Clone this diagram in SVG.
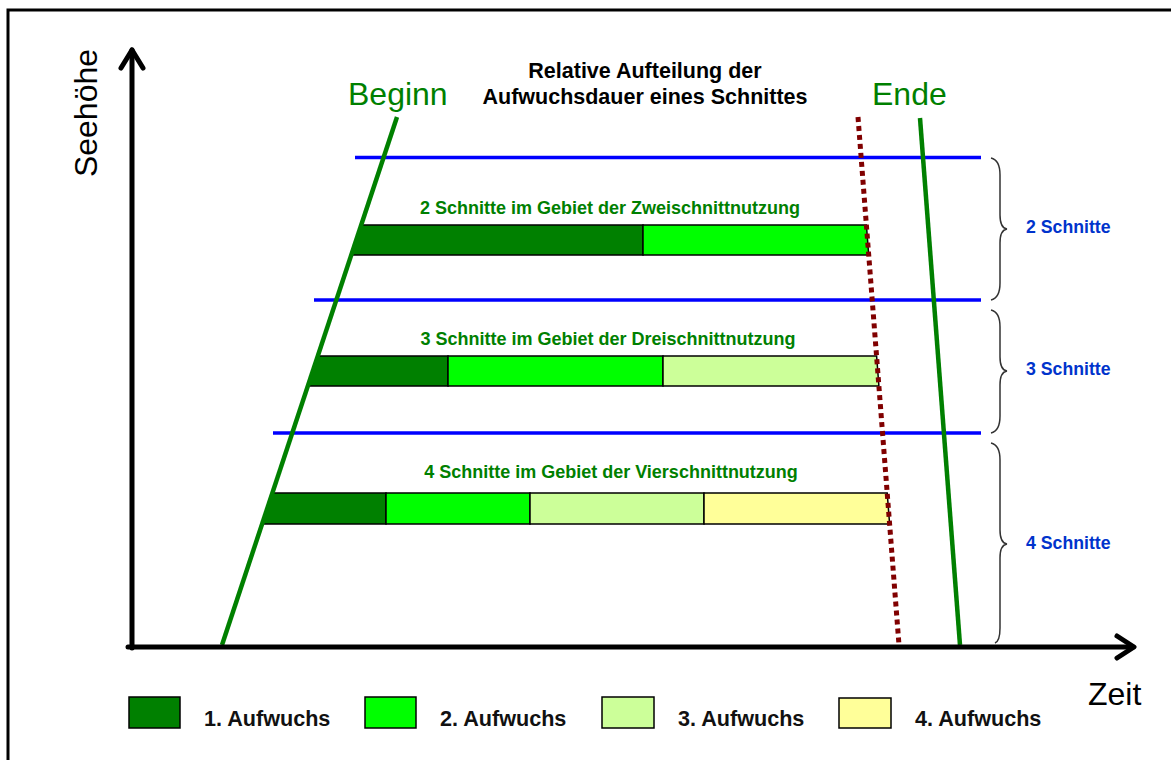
<svg xmlns="http://www.w3.org/2000/svg" width="1171" height="760" viewBox="0 0 1171 760">
<style>
.ax{stroke:#000;stroke-width:5;fill:none;stroke-linecap:round;stroke-linejoin:round}
.gl{stroke:#008000;stroke-width:4.5;fill:none}
.bl{stroke:#0000ff;stroke-width:3.5}
.br{stroke:#333;stroke-width:1.5;fill:none}
.seg{stroke:#000;stroke-width:1.5}
.c1{fill:#008000}.c2{fill:#00ff00}.c3{fill:#ccff99}.c4{fill:#ffff99}
.big{font-family:"Liberation Sans",Arial,sans-serif;font-size:32px}
.t{font-family:"Liberation Sans",Arial,sans-serif;font-weight:bold}
.tt{font-size:21.5px;fill:#000}
.gt{fill:#008000;font-size:18px}
.bt{fill:#0033cc;font-size:17.7px}
.lg{font-size:21.6px;fill:#111}
</style>
<rect x="8" y="10" width="1200" height="800" fill="#fff" stroke="#000" stroke-width="3"/>
<g id="title">
<text class="t tt" x="645" y="78" text-anchor="middle">Relative Aufteilung der</text>
<text class="t tt" x="645" y="104" text-anchor="middle">Aufwuchsdauer eines Schnittes</text>
</g>
<g id="bars">
<polygon class="c1 seg" points="361.2,225 643,225 643,255 351.3,255"/>
<polygon class="c2 seg" points="643,225 866.4,225 868.7,255 643,255"/>
<polygon class="c1 seg" points="317.8,356 448,356 448,386 307.9,386"/>
<polygon class="c2 seg" points="448,356 663,356 663,386 448,386"/>
<polygon class="c3 seg" points="663,356 876.6,356 878.9,386 663,386"/>
<polygon class="c1 seg" points="272.4,493 386,493 386,524 262.1,524"/>
<polygon class="c2 seg" points="386,493 530,493 530,524 386,524"/>
<polygon class="c3 seg" points="530,493 704,493 704,524 530,524"/>
<polygon class="c4 seg" points="704,493 887.2,493 889.6,524 704,524"/>
</g>
<g id="connectors">
<line class="bl" x1="355" y1="157.5" x2="981" y2="157.5"/>
<line class="bl" x1="314" y1="300" x2="981" y2="300"/>
<line class="bl" x1="273" y1="433" x2="981" y2="433"/>
<line class="gl" x1="397" y1="117" x2="222" y2="645"/>
<line class="gl" x1="920" y1="118" x2="960" y2="645"/>
<line x1="858" y1="117" x2="899" y2="645" stroke="#800000" stroke-width="5" stroke-dasharray="5,4"/>
<line class="ax" x1="132" y1="648" x2="132" y2="50"/>
<polyline class="ax" points="121,68 132,50 143,68"/>
<line class="ax" x1="128" y1="647" x2="1133" y2="647"/>
<polyline class="ax" points="1117,636 1134,647 1117,658"/>
<path class="br" d="M991,158 Q1000,160 1000,175 L1000,215 Q1000,228 1007,229 Q1000,230 1000,243 L1000,283 Q1000,298 991,300"/>
<path class="br" d="M991,310 Q1000,312 1000,327 L1000,357 Q1000,370 1007,371 Q1000,372 1000,385 L1000,416 Q1000,431 991,433"/>
<path class="br" d="M991,443 Q1000,445 1000,460 L1000,530 Q1000,543 1007,544 Q1000,545 1000,558 L1000,628 Q1000,641 995,643"/>
</g>
<g id="labels">
<text class="big" x="97" y="113" text-anchor="middle" transform="rotate(-90 97 113)">Seehöhe</text>
<text class="big" x="348" y="105" fill="#008000">Beginn</text>
<text class="big" x="872" y="105" fill="#008000">Ende</text>
<text class="big" x="1088" y="705">Zeit</text>
<text class="t gt" x="610" y="214" text-anchor="middle">2 Schnitte im Gebiet der Zweischnittnutzung</text>
<text class="t gt" x="608" y="345" text-anchor="middle">3 Schnitte im Gebiet der Dreischnittnutzung</text>
<text class="t gt" x="611" y="478" text-anchor="middle">4 Schnitte im Gebiet der Vierschnittnutzung</text>
<text class="t bt" x="1026" y="233">2 Schnitte</text>
<text class="t bt" x="1026" y="375">3 Schnitte</text>
<text class="t bt" x="1026" y="549">4 Schnitte</text>
</g>
<g id="legend">
<rect class="c1 seg" x="129" y="697" width="51" height="31"/>
<text class="t lg" x="204" y="726">1. Aufwuchs</text>
<rect class="c2 seg" x="365" y="697" width="51" height="31"/>
<text class="t lg" x="440" y="726">2. Aufwuchs</text>
<rect class="c3 seg" x="602" y="697" width="52" height="31"/>
<text class="t lg" x="678" y="726">3. Aufwuchs</text>
<rect class="c4 seg" x="839" y="698" width="52" height="30"/>
<text class="t lg" x="915" y="726">4. Aufwuchs</text>
</g>
</svg>
